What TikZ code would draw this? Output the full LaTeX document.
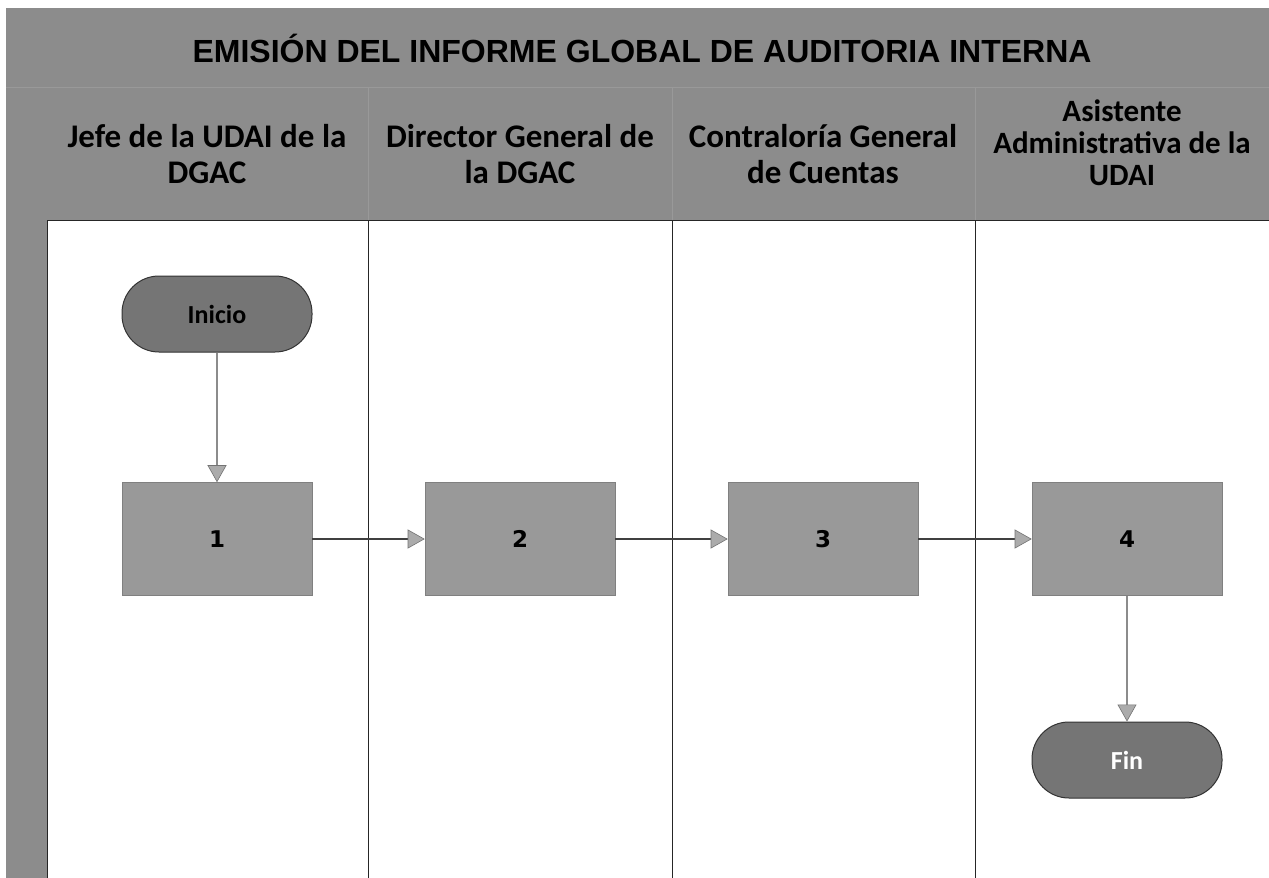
\documentclass[tikz,border=0pt]{standalone}
\usepackage{fontspec}
\setmainfont{Carlito}
\newfontfamily\titlefont{Liberation Sans}
\newfontfamily\numfont{DejaVu Sans}
\usetikzlibrary{arrows.meta}
\definecolor{bandgray}{gray}{0.55}
\definecolor{boxgray}{gray}{0.60}
\definecolor{termgray}{gray}{0.46}
\begin{document}
\begin{tikzpicture}[x=1pt,y=-1pt,
  titletext/.style={font=\titlefont\bfseries\fontsize{32}{34}\selectfont, text=black},
  lanehead/.style={font=\bfseries\fontsize{33}{36}\selectfont, align=center, text=black, inner sep=0pt},
  lanehead3/.style={font=\bfseries\fontsize{31}{32}\selectfont, align=center, text=black, inner sep=0pt},
  procbox/.style={draw=black!50, line width=0.6pt, fill=boxgray, minimum width=190pt, minimum height=113pt,
    font=\numfont\bfseries\fontsize{23}{25}\selectfont},
  terminal/.style={draw=black!80, line width=1pt, fill=termgray, rounded corners=37pt,
    minimum width=190pt, minimum height=76pt, font=\bfseries\fontsize{26}{28}\selectfont},
  tiphead/.tip={Triangle[length=17pt,width=19pt,fill=black!33,color=black!55,line width=0.6pt]},
  flowv/.style={draw=black!45, line width=1.4pt, -tiphead},
  flowh/.style={draw=black!75, line width=1.4pt, -tiphead},
  laneline/.style={draw=black!85, line width=1pt},
  faintline/.style={draw=black!40, line width=0.6pt}]
\useasboundingbox (0,0) rectangle (1269,878);
\fill[white] (0,0) rectangle (1269,878);
% bands
\fill[bandgray] (6,8) rectangle (1269,220);
\fill[bandgray] (6,220) rectangle (47,878);
\draw[faintline] (6,87) -- (1269,87);
\foreach \x in {368,672,975} \draw[faintline] (\x,87) -- (\x,220);
\draw[laneline] (47,220) -- (1269,220);
\draw[laneline] (47,220) -- (47,878);
\foreach \x in {368,672,975} \draw[laneline] (\x,220) -- (\x,878);
% texts
\node[titletext] (title) at (642,48) {EMISIÓN DEL INFORME GLOBAL DE AUDITORIA INTERNA};
\node[lanehead] (h1) at (207,154) {Jefe de la UDAI de la\\DGAC};
\node[lanehead] (h2) at (520,154) {Director General de\\la DGAC};
\node[lanehead] (h3) at (823,154) {Contraloría General\\de Cuentas};
\node[lanehead3] (h4) at (1122,143) {Asistente\\Administrativa de la\\UDAI};
% shapes
\node[terminal, text=black] (inicio) at (217,314) {Inicio};
\node[procbox] (b1) at (217,539) {1};
\node[procbox] (b2) at (520,539) {2};
\node[procbox] (b3) at (823,539) {3};
\node[procbox] (b4) at (1127,539) {4};
\node[terminal, text=white] (fin) at (1127,760) {Fin};
% connectors
\draw[flowv] (inicio) -- (b1);
\draw[flowh] (b1) -- (b2);
\draw[flowh] (b2) -- (b3);
\draw[flowh] (b3) -- (b4);
\draw[flowv] (b4) -- (fin);
\end{tikzpicture}
\end{document}
